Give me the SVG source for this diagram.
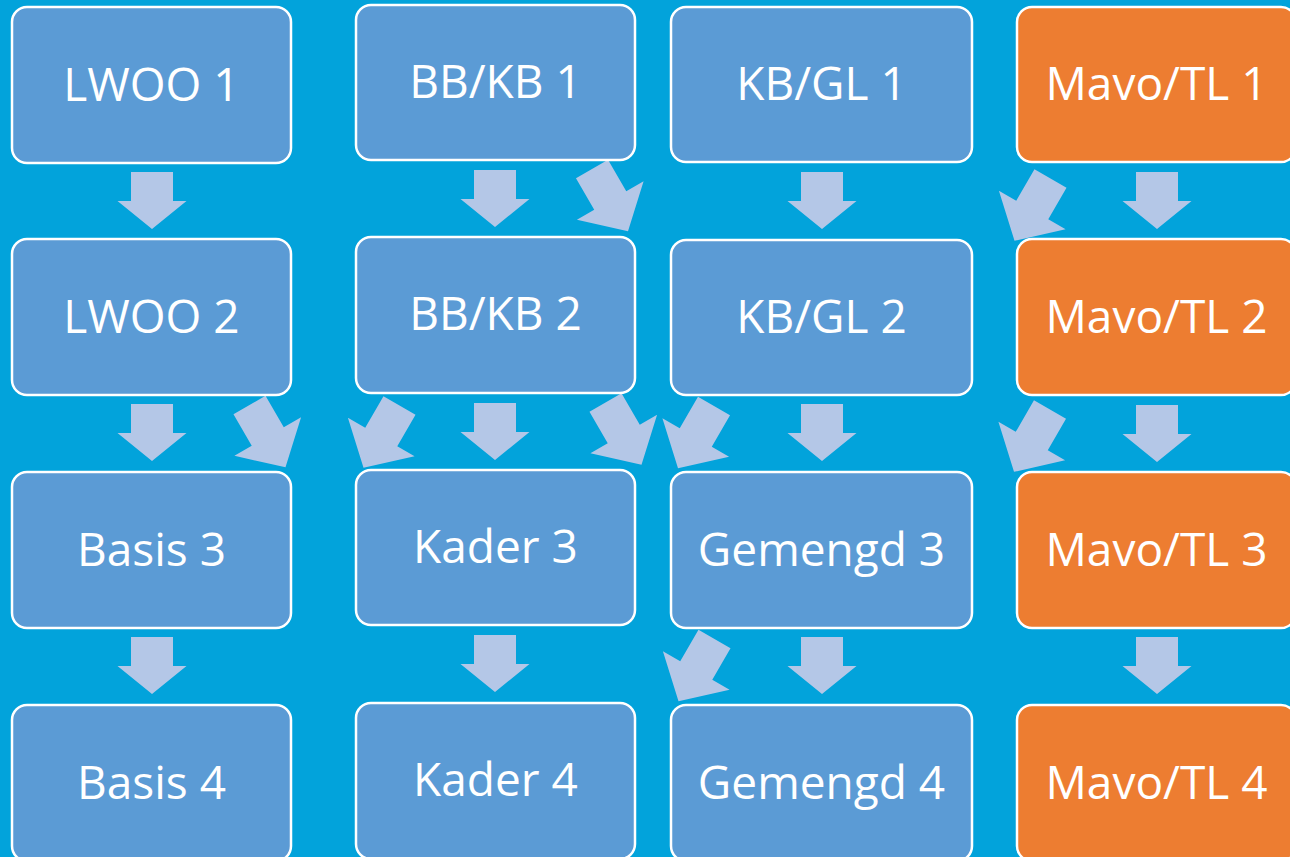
<svg xmlns="http://www.w3.org/2000/svg" width="1290" height="857" viewBox="0 0 1290 857">
<style>
.bg{fill:#02A3DB}
.box{fill:#5B9BD5;stroke:#FFFFFF;stroke-width:2.5}
.or{fill:#ED7D31;stroke:#FFFFFF;stroke-width:2.5}
.lbl{font-family:"Open Sans","Noto Sans","Liberation Sans",sans-serif;font-size:46px;fill:#FFFFFF;text-anchor:middle}
.arr{fill:#B4C7E7}
</style>
<defs>
<polygon id="down" points="-21,0 21,0 21,29 34.5,29 0,57 -34.5,29 -21,29"/>
<polygon id="diag" points="-18.5,0 18.5,0 18.5,36.5 38.5,36.5 0,72 -38.5,36.5 -18.5,36.5"/>
</defs>
<rect class="bg" x="0" y="0" width="1290" height="857"/>
<g id="connectors" class="arr">
<use href="#down" transform="translate(152,172)"/>
<use href="#down" transform="translate(152,404)"/>
<use href="#down" transform="translate(152,637)"/>
<use href="#down" transform="translate(495,170)"/>
<use href="#down" transform="translate(495,403)"/>
<use href="#down" transform="translate(495,635)"/>
<use href="#down" transform="translate(822,172)"/>
<use href="#down" transform="translate(822,404)"/>
<use href="#down" transform="translate(822,637)"/>
<use href="#down" transform="translate(1157,172)"/>
<use href="#down" transform="translate(1157,405)"/>
<use href="#down" transform="translate(1157,637)"/>
<use href="#diag" transform="translate(592,169) rotate(-30)"/>
<use href="#diag" transform="translate(1050.5,178.5) rotate(30)"/>
<use href="#diag" transform="translate(249.5,405) rotate(-30)"/>
<use href="#diag" transform="translate(399.5,405.5) rotate(30)"/>
<use href="#diag" transform="translate(605.5,402.5) rotate(-30)"/>
<use href="#diag" transform="translate(714,406) rotate(30)"/>
<use href="#diag" transform="translate(1050,409.5) rotate(30)"/>
<use href="#diag" transform="translate(714.5,639) rotate(30)"/>
</g>
<g id="lwoo1"><rect class="box" x="12" y="7" width="279" height="156" rx="15"/><text class="lbl" x="151.5" y="101">LWOO 1</text></g>
<g id="lwoo2"><rect class="box" x="12" y="239" width="279" height="156" rx="15"/><text class="lbl" x="151.5" y="333">LWOO 2</text></g>
<g id="basis3"><rect class="box" x="12" y="472" width="279" height="156" rx="15"/><text class="lbl" x="151.5" y="566">Basis 3</text></g>
<g id="basis4"><rect class="box" x="12" y="705" width="279" height="156" rx="15"/><text class="lbl" x="151.5" y="799">Basis 4</text></g>
<g id="bbkb1"><rect class="box" x="356" y="5" width="279" height="155" rx="15"/><text class="lbl" x="495.5" y="98">BB/KB 1</text></g>
<g id="bbkb2"><rect class="box" x="356" y="237" width="279" height="156" rx="15"/><text class="lbl" x="495.5" y="330">BB/KB 2</text></g>
<g id="kader3"><rect class="box" x="356" y="470" width="279" height="155" rx="15"/><text class="lbl" x="495.5" y="563">Kader 3</text></g>
<g id="kader4"><rect class="box" x="356" y="703" width="279" height="156" rx="15"/><text class="lbl" x="495.5" y="796">Kader 4</text></g>
<g id="kbgl1"><rect class="box" x="671" y="7" width="301" height="155" rx="15"/><text class="lbl" x="821.5" y="100">KB/GL 1</text></g>
<g id="kbgl2"><rect class="box" x="671" y="240" width="301" height="155" rx="15"/><text class="lbl" x="821.5" y="333">KB/GL 2</text></g>
<g id="gemengd3"><rect class="box" x="671" y="472" width="301" height="156" rx="15"/><text class="lbl" x="821.5" y="566">Gemengd 3</text></g>
<g id="gemengd4"><rect class="box" x="671" y="705" width="301" height="156" rx="15"/><text class="lbl" x="821.5" y="799">Gemengd 4</text></g>
<g id="mavo1"><rect class="or" x="1017" y="7" width="279" height="155" rx="15"/><text class="lbl" x="1156.5" y="100">Mavo/TL 1</text></g>
<g id="mavo2"><rect class="or" x="1017" y="239" width="279" height="156" rx="15"/><text class="lbl" x="1156.5" y="333">Mavo/TL 2</text></g>
<g id="mavo3"><rect class="or" x="1017" y="472" width="279" height="156" rx="15"/><text class="lbl" x="1156.5" y="566">Mavo/TL 3</text></g>
<g id="mavo4"><rect class="or" x="1017" y="705" width="279" height="156" rx="15"/><text class="lbl" x="1156.5" y="799">Mavo/TL 4</text></g>
</svg>
